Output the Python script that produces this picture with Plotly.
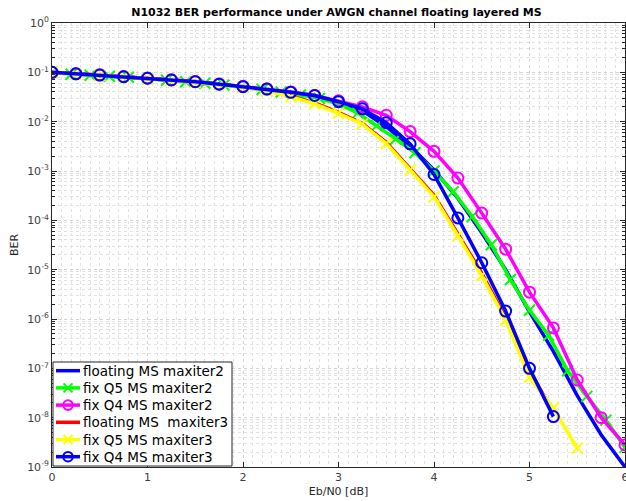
import plotly.graph_objects as go

# ---------------- data ----------------
snr_q25 = [0.0, 0.25, 0.5, 0.75, 1.0, 1.25, 1.5, 1.75, 2.0, 2.25, 2.5, 2.75,
           3.0, 3.25, 3.5, 3.75, 4.0, 4.25, 4.5, 4.75, 5.0, 5.25, 5.5, 5.75, 6.0]
snr_q20 = [0.0, 0.2, 0.4, 0.6, 0.8, 1.0, 1.2, 1.4, 1.6, 1.8, 2.0, 2.2, 2.4, 2.6,
           2.8, 3.0, 3.2, 3.4, 3.6, 3.8, 4.0, 4.2, 4.4, 4.6, 4.8, 5.0, 5.2, 5.4,
           5.6, 5.8, 6.0]

ber_float_it2 = [0.1, 0.093, 0.088, 0.082, 0.076, 0.070, 0.0645, 0.058, 0.0513,
                 0.0452, 0.039, 0.0324, 0.0245, 0.0166, 0.0079, 0.0032, 1.05e-3,
                 2.8e-4, 5.6e-5, 1.0e-5, 1.4e-6, 2.2e-7, 2.8e-8, 4.5e-9, 1.0e-9]

ber_q5_it2 = [0.100, 0.0912, 0.0871, 0.0832, 0.0794, 0.0741, 0.0692, 0.0646,
              0.0603, 0.0550, 0.0501, 0.0447, 0.0398, 0.0347, 0.0295, 0.0229,
              0.0151, 0.0083, 4.47e-3, 2.34e-3, 1.0e-3, 3.8e-4, 1.2e-4, 3.2e-5,
              6.3e-6, 1.5e-6, 4.7e-7, 8.9e-8, 2.7e-8, 8.9e-9, 2.5e-9]

ber_q4_it2 = [0.1, 0.094, 0.089, 0.082, 0.077, 0.071, 0.065, 0.058, 0.052, 0.046,
              0.040, 0.034, 0.0265, 0.020, 0.0135, 6.3e-3, 2.5e-3, 7.2e-4, 1.4e-4,
              2.6e-5, 3.5e-6, 6.6e-7, 5.8e-8, 1.0e-8, 2.8e-9]

ber_float_it3 = [0.1, 0.092, 0.087, 0.081, 0.075, 0.069, 0.063, 0.057, 0.051,
                 0.043, 0.033, 0.024, 0.0155, 0.0092, 3.8e-3, 1.1e-3, 3.2e-4,
                 5.3e-5, 8.5e-6, 1.05e-6, 9.0e-8, 1.3e-8]

ber_q5_it3 = [0.1, 0.091, 0.087, 0.081, 0.074, 0.068, 0.062, 0.056, 0.050, 0.042,
              0.032, 0.023, 0.0148, 8.9e-3, 3.6e-3, 1.05e-3, 3.0e-4, 4.9e-5,
              7.6e-6, 9.5e-7, 6.6e-8, 1.55e-8, 2.4e-9]

ber_q4_it3 = [0.1, 0.0933, 0.0881, 0.0813, 0.0759, 0.070, 0.0646, 0.0575, 0.0513,
              0.0457, 0.0394, 0.0339, 0.0254, 0.0182, 9.55e-3, 3.55e-3, 8.5e-4,
              1.12e-4, 1.38e-5, 1.45e-6, 1.0e-7, 1.05e-8]

series_names = ["floating MS maxiter2", "fix Q5 MS maxiter2", "fix Q4 MS maxiter2",
                "floating MS&nbsp;&nbsp;maxiter3", "fix Q5 MS maxiter3", "fix Q4 MS maxiter3"]
series_colors = ["#0000ff", "#00ff00", "#ff00ff", "#ff0000", "#ffff00", "#0000ff"]
series_markers = [None, "x", "circle", None, "x", "circle"]

x_ticks = [0, 1, 2, 3, 4, 5, 6]
y_tickvals = [1e0, 1e-1, 1e-2, 1e-3, 1e-4, 1e-5, 1e-6, 1e-7, 1e-8, 1e-9]
y_ticktext = ["10<sup>0</sup>", "10<sup>-1</sup>", "10<sup>-2</sup>", "10<sup>-3</sup>",
              "10<sup>-4</sup>", "10<sup>-5</sup>", "10<sup>-6</sup>", "10<sup>-7</sup>",
              "10<sup>-8</sup>", "10<sup>-9</sup>"]

title_text = "N1032 BER performance under AWGN channel floating layered MS"
x_title = "Eb/N0 [dB]"
y_title = "BER"

# ---------------- figure ----------------
FONT = "DejaVu Sans"
LW = 3.5
W, H = 626, 501
ML, MR, MT, MB = 52, 1, 23, 34
PW, PH = W - ML - MR, H - MT - MB

fig = go.Figure()

plot_symbols = {"x": "x-thin-open", "circle": "circle-open"}

series = [
    (snr_q25, ber_float_it2),
    (snr_q20, ber_q5_it2),
    (snr_q25, ber_q4_it2),
    (snr_q25, ber_float_it3),
    (snr_q25, ber_q5_it3),
    (snr_q25, ber_q4_it3),
]

for (xs, ys), name, color, mk in zip(series, series_names, series_colors, series_markers):
    kw = {}
    if mk is None:
        mode = "lines"
    else:
        mode = "lines+markers"
        kw["marker"] = dict(symbol=plot_symbols[mk], size=11, color=color,
                            line=dict(color=color, width=2))
    fig.add_trace(go.Scatter(x=xs[:len(ys)], y=ys, name=name.replace("&nbsp;", " "),
                             mode=mode, line=dict(color=color, width=LW),
                             showlegend=False, **kw))

axis_col = "#262626"
grid_col = "#d4d4d4"

# ---------------- legend (drawn in pixel layout positions) ----------------
def fx(px):
    return (px - ML) / PW

def fy(py):
    return (H - MB - py) / PH

shapes = []
annotations = []
box_l, box_r, box_t, box_b = 53, 232, 362, 466
shapes.append(dict(type="rect", xref="x domain", yref="y domain",
                   x0=fx(box_l), x1=fx(box_r), y0=fy(box_b), y1=fy(box_t),
                   fillcolor="white", line=dict(color=axis_col, width=1),
                   layer="above"))
row0, row_step = 370.7, 17.2
for i, (name, color, mk) in enumerate(zip(series_names, series_colors, series_markers)):
    cy = row0 + i * row_step
    shapes.append(dict(type="line", xref="x domain", yref="y domain",
                       x0=fx(56), x1=fx(80), y0=fy(cy), y1=fy(cy),
                       line=dict(color=color, width=LW), layer="above"))
    if mk == "circle":
        r = 4.8
        shapes.append(dict(type="circle", xref="x domain", yref="y domain",
                           x0=fx(68 - r), x1=fx(68 + r), y0=fy(cy + r), y1=fy(cy - r),
                           line=dict(color=color, width=2), fillcolor="rgba(0,0,0,0)",
                           layer="above"))
    elif mk == "x":
        r = 4.5
        for s in (1, -1):
            shapes.append(dict(type="line", xref="x domain", yref="y domain",
                               x0=fx(68 - r), x1=fx(68 + r),
                               y0=fy(cy - s * r), y1=fy(cy + s * r),
                               line=dict(color=color, width=2), layer="above"))
    annotations.append(dict(text=name, xref="x domain", yref="y domain",
                            x=fx(82), y=fy(cy), xanchor="left", yanchor="middle",
                            showarrow=False, borderpad=0,
                            font=dict(family=FONT, size=13.5, color="black")))

fig.update_layout(
    width=W, height=H,
    margin=dict(l=ML, r=MR, t=MT, b=MB, autoexpand=False),
    paper_bgcolor="white", plot_bgcolor="white",
    font=dict(family=FONT, size=11, color=axis_col),
    title=dict(text="<b>" + title_text + "</b>", x=0.5375, xanchor="center",
               y=0.976, yanchor="middle", font=dict(size=11, color="black")),
    showlegend=False,
    shapes=shapes,
    annotations=annotations,
)

fig.update_xaxes(
    range=[0, 6], tickvals=x_ticks, ticks="inside", ticklen=5,
    tickcolor=axis_col, showline=True, linecolor=axis_col, linewidth=1,
    mirror="ticks", zeroline=False, ticklabeloverflow="allow", automargin=False,
    showgrid=True, gridcolor=grid_col, griddash="dot", gridwidth=1,
    minor=dict(dtick=0.1, showgrid=True, gridcolor="#e2e2e2", griddash="dot",
               ticks=""),
    title=dict(text=x_title, standoff=4, font=dict(size=11, color=axis_col)),
    tickfont=dict(size=11, color="#404040"),
)

fig.update_yaxes(
    type="log", range=[-9, 0], tickvals=y_tickvals, ticktext=y_ticktext,
    ticks="inside", ticklen=5, tickcolor=axis_col, automargin=False,
    showline=True, linecolor=axis_col, linewidth=1, mirror="ticks",
    zeroline=False,
    showgrid=True, gridcolor=grid_col, griddash="dot", gridwidth=1,
    minor=dict(dtick="D1", showgrid=True, gridcolor="#e2e2e2", griddash="dot",
               ticks="inside", ticklen=3, tickcolor=axis_col),
    title=dict(text=y_title, standoff=6, font=dict(size=11, color=axis_col)),
    tickfont=dict(size=11, color="#404040"),
)

fig.write_html("out.html")
